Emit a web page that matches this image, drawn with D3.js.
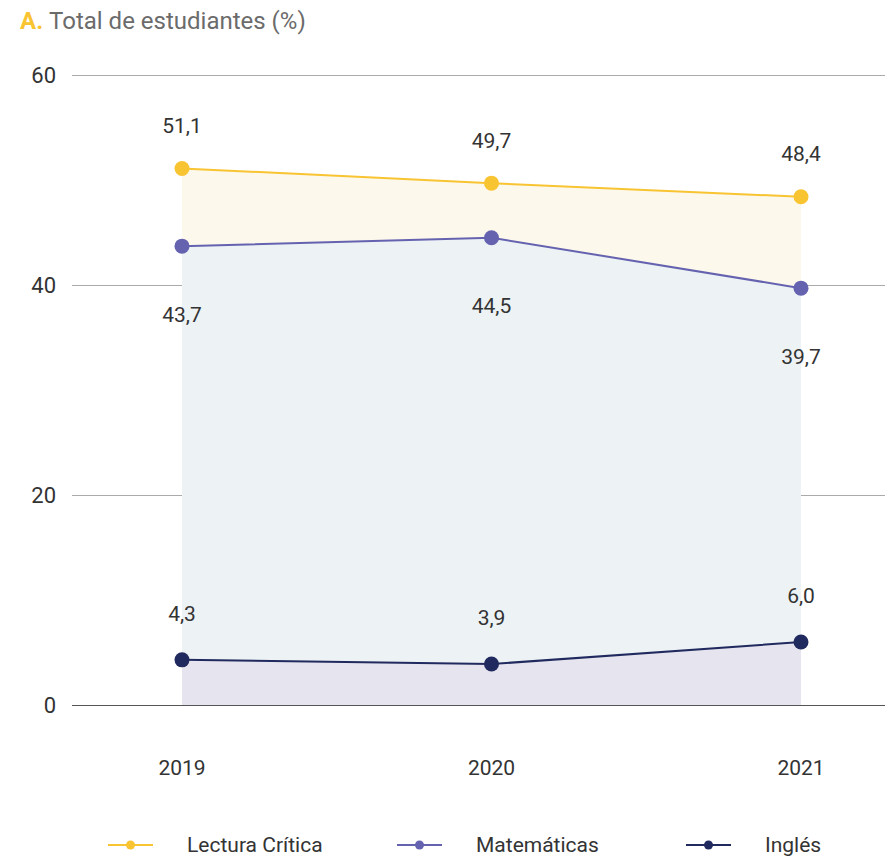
<!DOCTYPE html>
<html><head><meta charset="utf-8">
<script src="https://cdn.jsdelivr.net/npm/d3@7/dist/d3.min.js"></script>
<style>
html,body{margin:0;padding:0;background:#fff;}
svg{display:block;font-family:Roboto,"Noto Sans","Open Sans",sans-serif;}
</style></head>
<body>
<svg id="chart" width="885" height="858"></svg>
<script>
const years = ["2019", "2020", "2021"];
const lectura = [51.1, 49.7, 48.4];
const matematicas = [43.7, 44.5, 39.7];
const ingles = [4.3, 3.9, 6.0];
const yTicks = [0, 20, 40, 60];
const seriesNames = ["Lectura Crítica", "Matemáticas", "Inglés"];
const fmt = v => v.toFixed(1).replace(".", ",");

const svg = d3.select("#chart");
const x = d3.scalePoint().domain(years).range([182, 801]);
const y = d3.scaleLinear().domain([0, 60]).range([705, 75]);

const colors = {lec: "#f8c432", mat: "#6563b0", ing: "#212a5e"};
const fills = {lec: "#fdf8ec", mat: "#edf2f5", ing: "#e6e4ee"};

// title
const title = svg.append("text").attr("x", 20).attr("y", 29).attr("font-size", 24);
title.append("tspan").attr("fill", "#f8c432").attr("font-weight", "bold").text("A. ");
title.append("tspan").attr("fill", "#6b6b6b").text("Total de estudiantes (%)");

// grid
svg.append("g").selectAll("line").data(yTicks).join("line")
  .attr("x1", 72).attr("x2", 885)
  .attr("y1", d => y(d) + 0.5).attr("y2", d => y(d) + 0.5)
  .attr("stroke", d => d === 0 ? "#555" : "#aaa").attr("stroke-width", 1);

// areas
const idx = years.map((_, i) => i);
const band = (top, bot) => d3.area().x(i => x(years[i])).y0(i => y(bot ? bot[i] : 0)).y1(i => y(top[i]));
svg.append("path").datum(idx).attr("d", band(lectura, matematicas)).attr("fill", fills.lec);
svg.append("path").datum(idx).attr("d", band(matematicas, ingles)).attr("fill", fills.mat);
svg.append("path").datum(idx).attr("d", band(ingles, null)).attr("fill", fills.ing);

// y tick labels
svg.append("g").selectAll("text").data(yTicks).join("text")
  .attr("x", 56).attr("y", d => y(d)).attr("dy", "0.35em")
  .attr("text-anchor", "end").attr("font-size", 22).attr("fill", "#333")
  .text(d => d);

// x labels
svg.append("g").selectAll("text").data(years).join("text")
  .attr("x", d => x(d)).attr("y", 768).attr("dy", "0.35em")
  .attr("text-anchor", "middle").attr("font-size", 21).attr("fill", "#333")
  .text(d => d);

const series = [
  {vals: lectura, c: colors.lec, off: -43},
  {vals: matematicas, c: colors.mat, off: 68},
  {vals: ingles, c: colors.ing, off: -46}
];
const line = vals => d3.line().x(i => x(years[i])).y(i => y(vals[i]));
series.forEach(s => {
  svg.append("path").datum(idx).attr("d", line(s.vals)).attr("fill", "none")
    .attr("stroke", s.c).attr("stroke-width", 2);
  svg.append("g").selectAll("circle").data(idx).join("circle")
    .attr("cx", i => x(years[i])).attr("cy", i => y(s.vals[i])).attr("r", 7.5)
    .attr("fill", s.c);
  svg.append("g").selectAll("text").data(idx).join("text")
    .attr("x", i => x(years[i])).attr("y", i => y(s.vals[i]) + s.off).attr("dy", "0.35em")
    .attr("text-anchor", "middle").attr("font-size", 21).attr("fill", "#333")
    .text(i => fmt(s.vals[i]));
});

// legend
const leg = svg.append("g");
const legX = d3.scalePoint().domain(seriesNames).range([108, 686]);
const legColors = [colors.lec, colors.mat, colors.ing];
seriesNames.forEach((n, i) => {
  const g = leg.append("g").attr("transform", `translate(${legX(n)},845)`);
  g.append("line").attr("x1", 0).attr("x2", 45).attr("stroke", legColors[i]).attr("stroke-width", 2);
  g.append("circle").attr("cx", 22.5).attr("r", 4.5).attr("fill", legColors[i]);
  g.append("text").attr("x", 79).attr("dy", "0.35em").attr("font-size", 21).attr("fill", "#333").text(n);
});
</script>
</body></html>
